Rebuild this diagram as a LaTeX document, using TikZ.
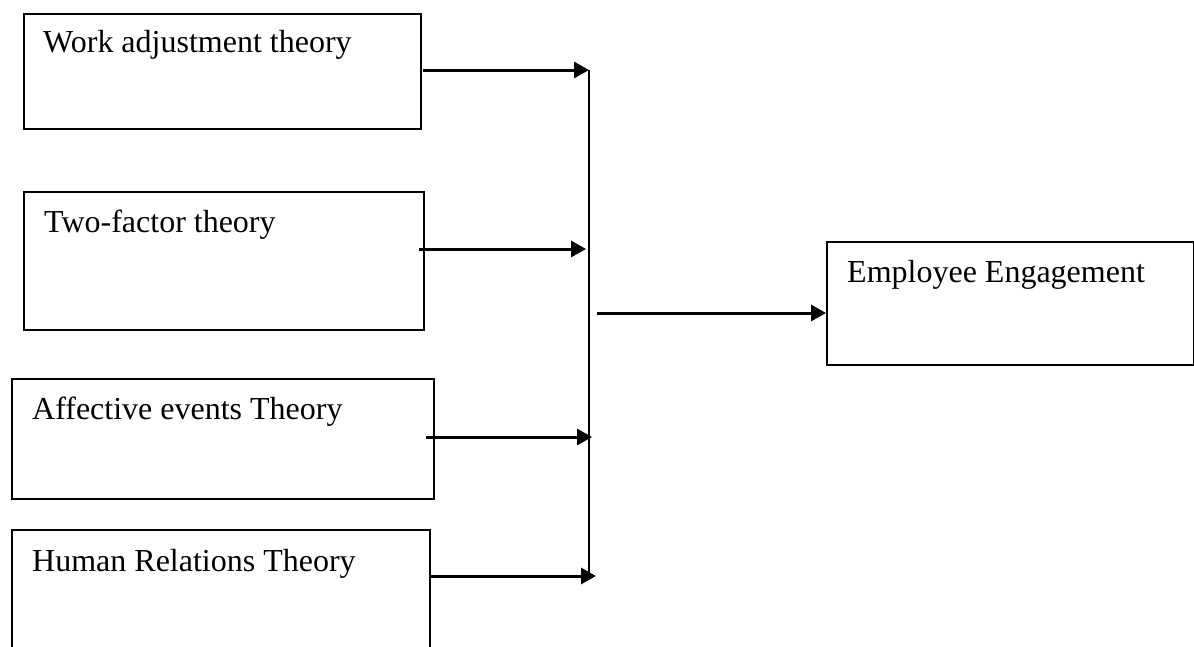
\documentclass[tikz,border=0pt]{standalone}
\usepackage{fontspec}
\setmainfont{Liberation Serif}
\usetikzlibrary{arrows.meta}
\tikzset{
  box/.style={draw=black, line width=2pt, rectangle, inner sep=0pt, anchor=north west},
  lbl/.style={anchor=base west, inner sep=0pt, font=\fontsize{32}{36}\selectfont},
  arr/.style={line width=3pt, -{Triangle[length=15pt,width=16pt]}},
  bus/.style={line width=2.2pt}
}
\begin{document}
\begin{tikzpicture}[x=1pt,y=-1pt]
\useasboundingbox (0,0) rectangle (1194,646);
\clip (0,0) rectangle (1194,646);
% boxes
\node[box, minimum width=397pt, minimum height=115pt] (b1) at (22.5,12.5) {};
\node[box, minimum width=400pt, minimum height=138pt] (b2) at (23,191) {};
\node[box, minimum width=422pt, minimum height=120pt] (b3) at (11,378) {};
\node[box, minimum width=418pt, minimum height=140pt] (b4) at (11,529) {};
\node[box, minimum width=367pt, minimum height=123pt] (ee) at (826,241) {};
% labels
\node[lbl] (t1) at (43,52) {Work adjustment theory};
\node[lbl] (t2) at (44,232) {Two-factor theory};
\node[lbl] (t3) at (32,419) {Affective events Theory};
\node[lbl] (t4) at (32,571) {Human Relations Theory};
\node[lbl] (t5) at (847,282) {Employee Engagement};
% connector points
\coordinate (s1) at (423,70);
\coordinate (e1) at (589,70);
\coordinate (s2) at (419,249);
\coordinate (e2) at (586,249);
\coordinate (s3) at (426,437);
\coordinate (e3) at (592,437);
\coordinate (s4) at (429,576);
\coordinate (e4) at (596,576);
\coordinate (bt) at (589,70);
\coordinate (bb) at (589,573);
\coordinate (s5) at (597,313);
% connectors
\draw[bus] (bt) -- (bb);
\draw[arr] (s1) -- (e1);
\draw[arr] (s2) -- (e2);
\draw[arr] (s3) -- (e3);
\draw[arr] (s4) -- (e4);
\draw[arr] (s5) -- (s5 -| ee.west);
\end{tikzpicture}
\end{document}
